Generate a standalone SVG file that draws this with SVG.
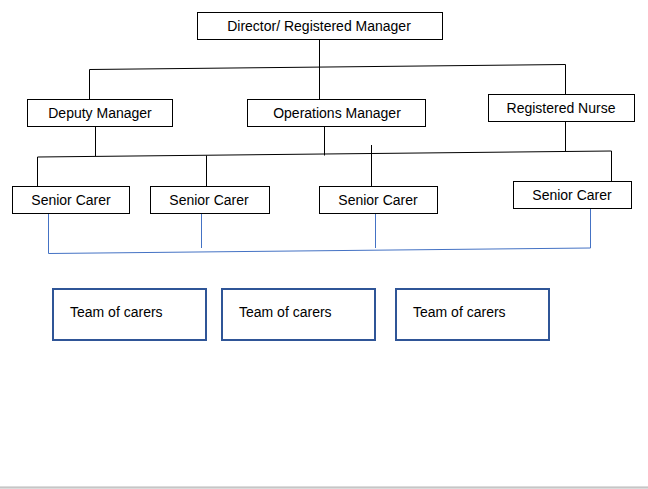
<svg xmlns="http://www.w3.org/2000/svg" width="648" height="489" viewBox="0 0 648 489">
<style>
.box{fill:#fff;stroke:#000;stroke-width:1}
.team{fill:#fff;stroke:#2F5597;stroke-width:2}
.t{font-family:"Liberation Sans",Arial,sans-serif;font-size:14px;fill:#000}
.c{text-anchor:middle}
.k{fill:none;stroke:#000;stroke-width:1}
.b{fill:none;stroke:#4472C4;stroke-width:1}
</style>
<rect width="648" height="489" fill="#fff"/>
<g id="connectors">
<line class="k" x1="319.5" y1="39" x2="319.5" y2="99"/>
<line class="k" x1="89.5" y1="69.5" x2="565.5" y2="64.5"/>
<line class="k" x1="89.5" y1="69.5" x2="89.5" y2="99"/>
<line class="k" x1="565.5" y1="64.5" x2="565.5" y2="94"/>
<line class="k" x1="95.5" y1="126" x2="95.5" y2="156"/>
<line class="k" x1="324.5" y1="126" x2="324.5" y2="155.5"/>
<line class="k" x1="565.5" y1="121" x2="565.5" y2="151"/>
<line class="k" x1="37.5" y1="157" x2="611.5" y2="151"/>
<line class="k" x1="37.5" y1="157" x2="37.5" y2="186"/>
<line class="k" x1="206.5" y1="155.5" x2="206.5" y2="186"/>
<line class="k" x1="371.5" y1="145" x2="371.5" y2="186"/>
<line class="k" x1="611.5" y1="151" x2="611.5" y2="181"/>
<line class="b" x1="48.5" y1="213" x2="48.5" y2="253.5"/>
<line class="b" x1="201.5" y1="213" x2="201.5" y2="248"/>
<line class="b" x1="375.5" y1="213" x2="375.5" y2="248"/>
<line class="b" x1="590.5" y1="208" x2="590.5" y2="248"/>
<line class="b" x1="48.5" y1="253.5" x2="590.5" y2="248"/>
</g>
<g id="director"><rect class="box" x="197.5" y="12.5" width="245" height="27"/><text class="t c" x="319" y="31">Director/ Registered Manager</text></g>
<g id="deputy"><rect class="box" x="27.5" y="99.5" width="145" height="27"/><text class="t c" x="100" y="118">Deputy Manager</text></g>
<g id="operations"><rect class="box" x="247.5" y="99.5" width="178" height="27"/><text class="t c" x="337" y="118">Operations Manager</text></g>
<g id="nurse"><rect class="box" x="488.5" y="94.5" width="146" height="27"/><text class="t c" x="561" y="113">Registered Nurse</text></g>
<g id="carer1"><rect class="box" x="12.5" y="186.5" width="117" height="27"/><text class="t c" x="71" y="205">Senior Carer</text></g>
<g id="carer2"><rect class="box" x="150.5" y="186.5" width="119" height="27"/><text class="t c" x="209" y="205">Senior Carer</text></g>
<g id="carer3"><rect class="box" x="319.5" y="186.5" width="118" height="27"/><text class="t c" x="378" y="205">Senior Carer</text></g>
<g id="carer4"><rect class="box" x="513.5" y="181.5" width="118" height="27"/><text class="t c" x="572" y="200">Senior Carer</text></g>
<g id="team1"><rect class="team" x="53" y="289" width="153" height="51"/><text class="t" x="70" y="317">Team of carers</text></g>
<g id="team2"><rect class="team" x="222" y="289" width="153" height="51"/><text class="t" x="239" y="317">Team of carers</text></g>
<g id="team3"><rect class="team" x="396" y="289" width="153" height="51"/><text class="t" x="413" y="317">Team of carers</text></g>
<rect x="0" y="486" width="648" height="3" fill="#dcdcdc"/>
<line x1="0" y1="487.5" x2="648" y2="487.5" stroke="#c6c6c6" stroke-width="1"/>
</svg>
